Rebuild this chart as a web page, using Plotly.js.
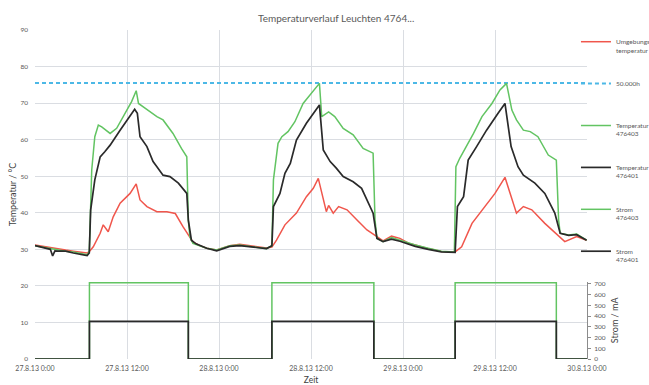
<!DOCTYPE html>
<html><head><meta charset="utf-8">
<script src="https://cdn.plot.ly/plotly-3.0.1.min.js"></script>
<style>html,body{margin:0;padding:0;background:#fff}#chart{width:649px;height:385px}</style>
</head><body><div id="chart"></div>
<script>
// x values are hours since 27.8.13 0:00
const xTickVals = [0, 12, 24, 36, 48, 60, 72];
const xTickText = ["27.8.13 0:00", "27.8.13 12:00", "28.8.13 0:00", "28.8.13 12:00", "29.8.13 0:00", "29.8.13 12:00", "30.8.13 0:00"];

const umgebungH = [0,1,2,3,4,5,6,6.8,7.1,7.6,8.5,8.9,9.55,10.2,11.1,12.4,13.2,13.7,14.6,15.9,17.2,18.3,19.3,20.2,20.6,21.5,22.4,23.7,25.4,26.7,28.9,30.2,30.9,31.5,32.6,34.1,35.4,36.3,36.95,37.6,38.0,38.3,38.9,39.6,40.7,42.0,43.3,44.6,45.4,46.5,47.6,48.9,49.6,51.3,53.0,54.8,55.65,57.0,58.3,60.0,61.3,62.2,62.8,63.7,64.8,66.5,68.3,69.1,70.65,71.95];
const umgebungV = [31.2,30.8,30.5,30.2,29.8,29.5,29.2,29.0,29.4,30.7,34.4,36.7,34.8,38.9,42.6,45.3,47.9,43.5,41.7,40.3,40.3,39.8,36.2,33.5,32.0,31.0,30.3,29.8,31.0,31.4,30.7,30.4,30.6,32.5,36.7,39.9,44.4,46.7,49.4,44.0,40.3,42.0,39.9,41.7,40.8,38.0,35.3,33.5,32.3,33.6,33.0,31.5,31.2,30.2,29.4,29.3,30.7,37.1,40.8,45.3,49.7,43.5,39.9,41.7,40.8,37.1,33.5,32.1,33.5,32.5];

const temp403H = [0,1,2,3,4,5,6,6.8,7.08,7.4,7.8,8.26,8.7,9.8,10.65,12.0,12.6,13.2,13.5,14.35,15.9,16.7,18.0,19.1,19.8,20.0,20.2,20.6,22.4,23.7,25.4,26.7,28.9,30.2,30.9,31.1,31.7,32.2,33.0,33.9,34.97,35.9,37.1,37.4,38.3,39.1,40.2,41.5,42.8,44.1,44.35,44.6,45.4,46.5,47.6,48.9,49.6,51.3,53.0,54.7,54.9,55.4,56.3,57.2,58.3,59.6,60.65,61.5,62.2,62.8,63.7,64.6,65.6,66.95,68.0,68.3,68.5,69.6,70.65,71.95];
const temp403V = [31.0,30.6,30.2,29.9,29.5,29.3,28.8,28.5,29.4,51.7,60.8,64.0,63.5,61.7,63.1,68.1,70.4,73.4,69.9,68.6,66.3,65.4,61.7,57.6,55.3,38.0,33.5,31.6,30.3,29.8,31.0,31.2,30.5,30.2,31.0,49.0,59.0,60.8,62.2,64.9,69.9,72.2,75.4,66.3,67.6,66.3,63.1,61.3,57.6,56.3,38.0,33.0,32.1,33.2,32.5,31.5,31.2,30.3,29.5,29.3,52.6,54.9,58.1,61.7,66.3,69.9,73.6,75.4,68.1,65.4,62.6,62.2,60.8,55.8,54.4,38.0,34.4,33.9,34.2,32.5];

const temp401H = [0,1,2,2.3,2.6,3,4,5,6,6.8,7.08,7.26,7.8,8.5,9.1,9.8,11.1,12.4,13.0,13.35,13.7,14.6,15.4,15.9,16.7,17.6,18.7,19.8,20.0,20.4,21.0,22.4,23.7,25.4,26.7,28.9,30.2,30.9,31.1,31.95,32.6,33.3,34.1,35.4,36.3,37.1,37.6,38.5,39.3,40.2,41.5,42.6,44.1,44.6,45.4,46.5,47.6,48.9,49.6,51.3,53.0,54.8,55.1,55.9,56.5,57.6,58.9,60.4,61.3,62.1,63.0,63.7,65.2,66.5,67.8,68.5,69.6,70.65,71.95];
const temp401V = [31.0,30.5,30.0,28.2,29.6,29.5,29.5,29.0,28.5,28.3,29.0,40.8,49.0,55.3,56.7,58.5,62.6,66.3,68.3,67.2,60.8,58.1,54.0,52.6,50.3,49.9,48.1,45.3,38.0,32.5,31.5,30.3,29.6,30.8,31.0,30.5,30.2,31.0,41.7,45.3,50.8,53.5,59.9,64.5,67.2,69.5,57.2,54.0,52.2,49.9,48.5,46.7,39.9,33.0,32.1,32.8,32.2,31.2,30.8,30.0,29.3,29.2,41.7,44.4,54.4,58.1,62.6,67.2,69.9,58.1,52.6,50.3,48.1,45.3,39.9,34.4,33.8,34.0,32.5];

const limitH = [0, 72];
const limitV = [75.5, 75.5];

const strom403H = [0, 7.1, 20.0, 30.9, 44.2, 54.8, 68.0, 72];
const strom403V = [0, 710, 0, 710, 0, 710, 0, 0];
const strom401H = [0, 7.1, 20.0, 30.9, 44.2, 54.8, 68.0, 72];
const strom401V = [0, 350, 0, 350, 0, 350, 0, 0];

const seriesNames = ["Umgebungs<br>temperatur", "50.000h<br> ", "Temperatur<br>476403", "Temperatur<br>476401", "Strom<br>476403", "Strom<br>476401"];

const RED = "#f0564c", GREEN = "#62c462", BLACK = "#2a2a2a", CYAN = "#4cb8e6";
const txt = "#595959";
const F = "Lato, 'Open Sans', sans-serif";

const traces = [
  {x: umgebungH, y: umgebungV, name: seriesNames[0], line: {color: RED, width: 1.5}},
  {x: limitH, y: limitV, name: seriesNames[1], line: {color: CYAN, width: 2, dash: "4px,3px"}},
  {x: temp403H, y: temp403V, name: seriesNames[2], line: {color: GREEN, width: 1.5}},
  {x: temp401H, y: temp401V, name: seriesNames[3], line: {color: BLACK, width: 1.7}},
  {x: strom403H, y: strom403V, name: seriesNames[4], yaxis: "y2", line: {color: GREEN, width: 1.5, shape: "hv"}},
  {x: strom401H, y: strom401V, name: seriesNames[5], yaxis: "y2", line: {color: BLACK, width: 1.7, shape: "hv"}}
].map((t, i) => Object.assign({type: "scatter", mode: "lines", legendgroup: "g" + i, hoverinfo: "skip"}, t));

const layout = {
  width: 649, height: 385,
  margin: {l: 35, r: 62, t: 30, b: 26, autoexpand: false},
  paper_bgcolor: "#fff", plot_bgcolor: "rgba(0,0,0,0)",
  font: {family: F, size: 7, color: txt},
  showlegend: true,
  title: {text: "Temperaturverlauf Leuchten 4764...", font: {family: F, size: 10, color: txt}, x: 0.518, xanchor: "center", y: 0.953, yanchor: "middle"},
  xaxis: {range: [0, 72], tickvals: xTickVals, ticktext: xTickText, showgrid: true, gridcolor: "#dadde2", gridwidth: 1,
          zeroline: false, showline: false, ticks: "", ticklabelstandoff: 4, tickfont: {size: 7, color: txt},
          title: {text: "Zeit", font: {size: 8.5, color: "#404040"}, standoff: 6}, automargin: false},
  yaxis: {range: [0, 90], dtick: 10, showgrid: true, gridcolor: "#dadde2", zeroline: false, showline: false, ticks: "",
          ticklabelstandoff: 6, tickfont: {size: 6.5, color: txt},
          title: {text: "Temperatur / °C", font: {size: 9, color: "#404040"}, standoff: 2}, automargin: false},
  yaxis2: {domain: [0, 0.235], range: [0, 720], anchor: "x", side: "right", tickvals: [0,100,200,300,400,500,600,700],
           showgrid: false, zeroline: false, showline: true, linecolor: "#8c8c8c", linewidth: 1, ticks: "outside", ticklen: 3,
           tickcolor: "#8c8c8c", ticklabelstandoff: 2, tickfont: {size: 6.5, color: txt},
           title: {text: "Strom / mA", font: {size: 9, color: "#404040"}, standoff: 6}, automargin: false},
  legend: {x: 0.980, xanchor: "left", y: 0.997, yanchor: "top", traceorder: "grouped", tracegroupgap: 22,
           valign: "top", font: {size: 6.5, color: txt}, bgcolor: "rgba(0,0,0,0)", borderwidth: 0}
};

Plotly.newPlot("chart", traces, layout, {displayModeBar: false, staticPlot: true});
</script>
</body></html>
